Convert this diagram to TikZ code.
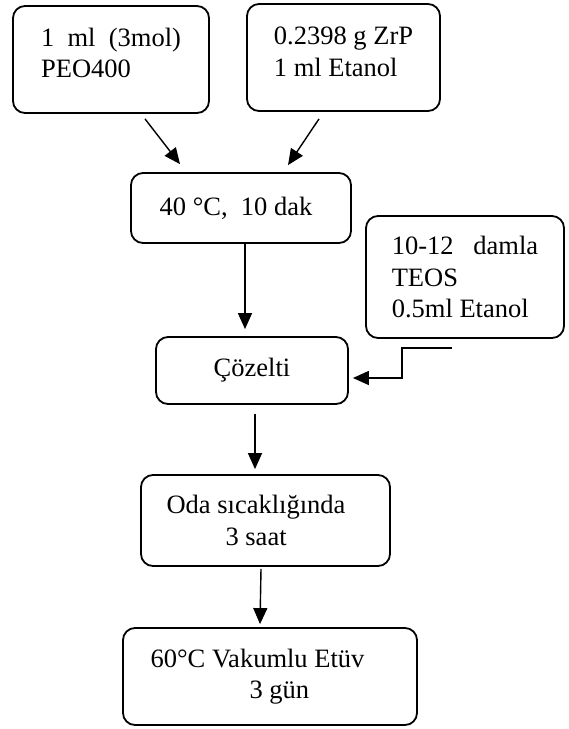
\documentclass[tikz,border=0pt]{standalone}
\usepackage{fontspec}
\setmainfont{Liberation Serif}
\usetikzlibrary{arrows.meta}
\newcommand{\padright}[1]{\rule{#1}{0pt}}

\begin{document}
\begin{tikzpicture}[x=1pt, y=-1pt,
    stage/.style={draw, rounded corners=12pt, line width=1.8pt, align=left, font=\fontsize{26.5}{31.5}\selectfont},
    flow/.style={-{Triangle[length=16pt, width=14pt]}, line width=1.4pt}]
    \useasboundingbox (0,0) rectangle (569,729);

    % Starting materials
    \node[stage, minimum width=196pt, minimum height=107pt, text depth=13pt] (peo) at (111,59.5) {1\ \ ml\ \ (3mol)\\PEO400};
    \node[stage, minimum width=193pt, minimum height=107pt, text depth=12pt] (zrp) at (343.5,57.5) {0.2398 g ZrP\\1 ml Etanol};
    \node[stage, minimum width=198pt, minimum height=122pt] (teos) at (465,277) {10-12\ \ \ damla\\TEOS\\0.5ml Etanol};

    % Process steps
    \node[stage, minimum width=220pt, minimum height=70pt] (mix) at (241,208) {40 °C,\ \ 10 dak\padright{10pt}};
    \node[stage, minimum width=192pt, minimum height=67pt] (coz) at (252,370.5) {Çözelti};
    \node[stage, minimum width=249pt, minimum height=91pt] (oda) at (265.5,520.5) {Oda sıcaklığında\padright{19pt}\\\hspace*{59pt}3 saat};
    \node[stage, minimum width=294pt, minimum height=97pt] (etuv) at (270,676.5) {60°C Vakumlu Etüv\padright{25pt}\\\hspace*{99pt}3 gün};

    % Arrows
    \draw[flow] ([xshift=34pt, yshift=-5pt]peo.south) -- ([xshift=-61pt, yshift=8pt]mix.north);
    \draw[flow] ([xshift=-24.5pt, yshift=-7pt]zrp.south) -- ([xshift=47pt, yshift=7pt]mix.north);
    \draw[flow] ([xshift=4pt]mix.south) -- ([xshift=-7pt, yshift=7pt]coz.north);
    \draw[flow] ([xshift=-13pt, yshift=-9pt]teos.south) -- ++(-50,0) |- ([xshift=4pt, yshift=-7.5pt]coz.east);
    \draw[flow] ([xshift=3pt, yshift=-9pt]coz.south) -- ([xshift=-10.5pt, yshift=5pt]oda.north);
    \draw[flow] ([xshift=-4.5pt, yshift=-2pt]oda.south) -- ([xshift=-10pt, yshift=3pt]etuv.north);
\end{tikzpicture}
\end{document}
